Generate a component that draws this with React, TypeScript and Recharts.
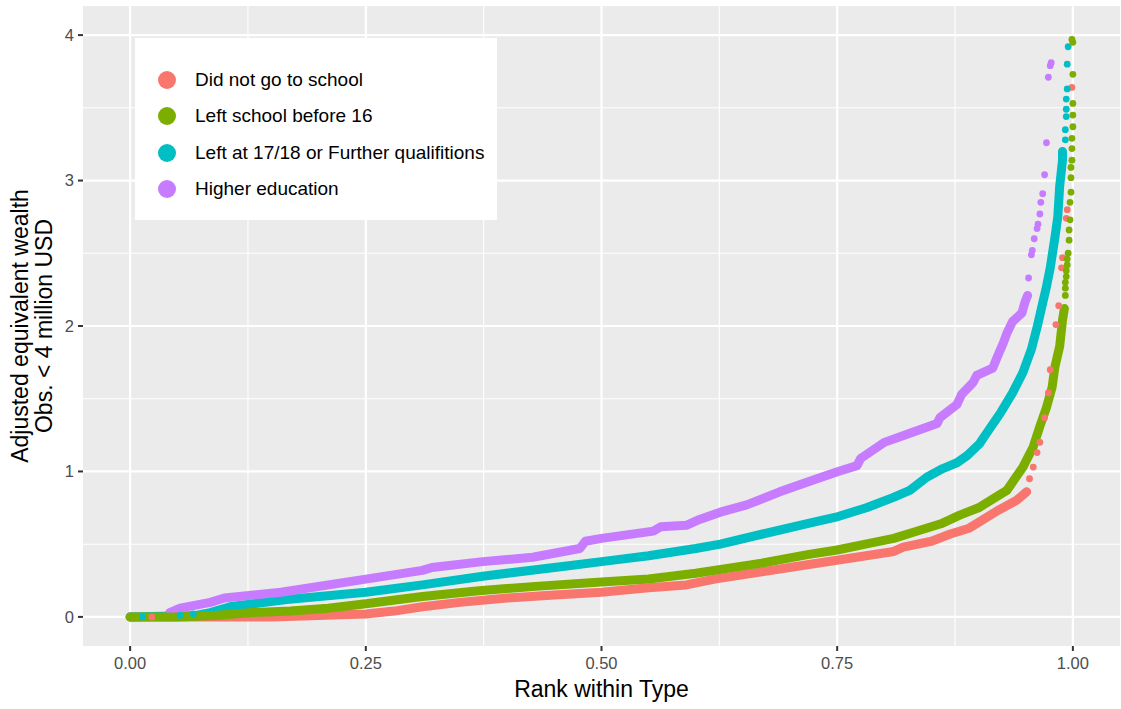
import React from 'react';
import { ScatterChart, Scatter, XAxis, YAxis, CartesianGrid } from 'recharts';

const FONT = '"Liberation Sans", Arial, Helvetica, sans-serif';

const SERIES_NAMES = [
  'Did not go to school',
  'Left school before 16',
  'Left at 17/18 or Further qualifitions',
  'Higher education',
];
const SERIES_COLORS = ['#F8766D', '#7CAE00', '#00BFC4', '#C77CFF'];

const X_TICKS = [0, 0.25, 0.5, 0.75, 1];
const X_TICK_LABELS = ['0.00', '0.25', '0.50', '0.75', '1.00'];
const Y_TICKS = [0, 1, 2, 3, 4];
const X_MINOR = [0.125, 0.375, 0.625, 0.875];
const Y_MINOR = [0.5, 1.5, 2.5, 3.5];

// rank within type, wealth (million USD) — dense part of each curve
const RED_BODY: [number, number][] = [
  [0, 0], [0.05, 0], [0.1, 0], [0.15, 0], [0.2, 0.01], [0.25, 0.02], [0.28, 0.04],
  [0.31, 0.07], [0.35, 0.1], [0.4, 0.13], [0.45, 0.15], [0.5, 0.17], [0.55, 0.2],
  [0.59, 0.22], [0.62, 0.26], [0.67, 0.31], [0.72, 0.36], [0.76, 0.4], [0.81, 0.45],
  [0.82, 0.48], [0.85, 0.52], [0.87, 0.57], [0.89, 0.61], [0.9, 0.65], [0.92, 0.73],
  [0.94, 0.8], [0.951, 0.86],
];
const GREEN_BODY: [number, number][] = [
  [0, 0], [0.05, 0], [0.09, 0.01], [0.13, 0.03], [0.17, 0.04], [0.21, 0.06], [0.25, 0.09],
  [0.31, 0.14], [0.37, 0.18], [0.43, 0.21], [0.5, 0.24], [0.55, 0.26], [0.6, 0.3],
  [0.63, 0.33], [0.67, 0.37], [0.72, 0.43], [0.75, 0.46], [0.78, 0.5], [0.81, 0.54],
  [0.83, 0.58], [0.86, 0.64], [0.88, 0.7], [0.9, 0.75], [0.92, 0.83], [0.93, 0.87],
  [0.947, 1.03], [0.958, 1.17], [0.965, 1.31], [0.972, 1.44], [0.978, 1.58],
  [0.981, 1.72], [0.986, 1.86], [0.989, 2.04], [0.991, 2.12],
];
const CYAN_BODY: [number, number][] = [
  [0, 0], [0.07, 0.01], [0.085, 0.03], [0.106, 0.07], [0.166, 0.12], [0.25, 0.17],
  [0.31, 0.22], [0.374, 0.28], [0.463, 0.35], [0.5, 0.38], [0.55, 0.42], [0.6, 0.47],
  [0.626, 0.5], [0.671, 0.57], [0.724, 0.65], [0.751, 0.69], [0.781, 0.75], [0.809, 0.82],
  [0.827, 0.87], [0.845, 0.96], [0.862, 1.02], [0.877, 1.06], [0.888, 1.11], [0.901, 1.19],
  [0.905, 1.23], [0.923, 1.4], [0.936, 1.54], [0.947, 1.68], [0.956, 1.84], [0.962, 1.99],
  [0.967, 2.13], [0.972, 2.27], [0.976, 2.4], [0.981, 2.61], [0.984, 2.75], [0.986, 2.96],
  [0.989, 3.14], [0.989, 3.2],
];
const PURPLE_BODY: [number, number][] = [
  [0.042, 0.03], [0.053, 0.06], [0.085, 0.1], [0.1, 0.13], [0.16, 0.17], [0.25, 0.26],
  [0.31, 0.32], [0.32, 0.34], [0.374, 0.38], [0.427, 0.41], [0.477, 0.47], [0.483, 0.52],
  [0.5, 0.54], [0.555, 0.59], [0.563, 0.62], [0.59, 0.63], [0.604, 0.67], [0.626, 0.72],
  [0.654, 0.77], [0.689, 0.86], [0.724, 0.94], [0.751, 1.0], [0.771, 1.04], [0.775, 1.09],
  [0.8, 1.2], [0.83, 1.27], [0.856, 1.33], [0.859, 1.37], [0.877, 1.46], [0.882, 1.53],
  [0.894, 1.61], [0.898, 1.66], [0.915, 1.71], [0.92, 1.79], [0.926, 1.88], [0.93, 1.95],
  [0.936, 2.03], [0.946, 2.09], [0.949, 2.16], [0.952, 2.21],
];

// scattered observations in the tails
const RED_TAIL: [number, number][] = [
  [0.023, 0], [0.954, 0.95], [0.958, 1.03], [0.962, 1.13], [0.965, 1.2], [0.97, 1.37],
  [0.974, 1.54], [0.976, 1.7], [0.982, 2.01], [0.985, 2.14], [0.988, 2.4], [0.989, 2.47],
  [0.993, 2.74], [0.994, 2.8], [0.999, 3.64],
];
const CYAN_TAIL: [number, number][] = [
  [0.013, 0], [0.053, 0.01], [0.067, 0.02], [0.992, 3.28], [0.992, 3.35], [0.993, 3.44],
  [0.993, 3.49], [0.993, 3.56], [0.994, 3.63], [0.994, 3.8], [0.995, 3.92],
];
const PURPLE_TAIL: [number, number][] = [
  [0.953, 2.33], [0.956, 2.49], [0.957, 2.52], [0.959, 2.6], [0.962, 2.67], [0.963, 2.7],
  [0.965, 2.77], [0.966, 2.85], [0.968, 2.91], [0.97, 3.04], [0.972, 3.26], [0.974, 3.71],
  [0.976, 3.79], [0.977, 3.81],
];
const GREEN_TAIL: [number, number][] = [
  [0.992, 2.21], [0.992, 2.26], [0.992, 2.3], [0.993, 2.34], [0.993, 2.38], [0.994, 2.42],
  [0.994, 2.46], [0.995, 2.5], [0.996, 2.59], [0.996, 2.66], [0.997, 2.73], [0.997, 2.85],
  [0.998, 2.92], [0.998, 3.02], [0.998, 3.09], [0.999, 3.14], [0.999, 3.22], [0.999, 3.29],
  [1.0, 3.37], [1.0, 3.45], [1.0, 3.53], [1.0, 3.73], [1.0, 3.95], [0.999, 3.97],
];

const toPoints = (arr: [number, number][]) => arr.map(([x, y]) => ({ x, y }));

const dot = (color: string) => (props: any) => (
  <circle cx={props.cx} cy={props.cy} r={3.4} fill={color} />
);

function YTitle(props: any) {
  const vb = props.viewBox || { x: 0, y: 6, width: 83, height: 640 };
  const cy = vb.y + vb.height / 2;
  const lines = ['Adjusted equivalent wealth', 'Obs. < 4 million USD'];
  const xs = [20, 44];
  return (
    <g>
      {lines.map((t, i) => (
        <text
          key={t}
          x={xs[i]}
          y={cy}
          transform={`rotate(-90, ${xs[i]}, ${cy})`}
          textAnchor="middle"
          dominantBaseline="central"
          fontFamily={FONT}
          fontSize={23}
          fill="#000"
        >
          {t}
        </text>
      ))}
    </g>
  );
}

function XTitle(props: any) {
  const vb = props.viewBox || { x: 83, y: 646, width: 1037, height: 63 };
  return (
    <text
      x={vb.x + vb.width / 2}
      y={vb.y + 51}
      textAnchor="middle"
      fontFamily={FONT}
      fontSize={23}
      fill="#000"
    >
      Rank within Type
    </text>
  );
}

function LegendBox() {
  return (
    <div
      style={{
        position: 'absolute',
        left: 135,
        top: 38,
        width: 362,
        height: 182,
        background: '#FFFFFF',
        fontFamily: FONT,
        fontSize: 19,
        color: '#000',
      }}
    >
      {SERIES_NAMES.map((name, i) => (
        <div
          key={name}
          style={{ position: 'absolute', left: 0, top: 42 + i * 36.3 - 18, height: 36, display: 'flex', alignItems: 'center' }}
        >
          <span
            style={{
              display: 'inline-block',
              width: 18,
              height: 18,
              borderRadius: 9,
              background: SERIES_COLORS[i],
              marginLeft: 23,
              marginRight: 19,
            }}
          />
          <span>{name}</span>
        </div>
      ))}
    </div>
  );
}

export default function App() {
  const bodies = [RED_BODY, CYAN_BODY, PURPLE_BODY, GREEN_BODY];
  const bodyColors = [SERIES_COLORS[0], SERIES_COLORS[2], SERIES_COLORS[3], SERIES_COLORS[1]];
  const tails = [RED_TAIL, CYAN_TAIL, PURPLE_TAIL, GREEN_TAIL];

  return (
    <div style={{ position: 'absolute', left: 0, top: 0, width: 1121, height: 709, background: '#fff' }}>
      <ScatterChart width={1121} height={709} margin={{ top: 6, right: 1, bottom: 0, left: 0 }}>
        <CartesianGrid
          fill="#EBEBEB"
          stroke="#FFFFFF"
          strokeWidth={1.1}
          horizontalValues={Y_MINOR}
          verticalValues={X_MINOR}
        />
        <CartesianGrid
          stroke="#FFFFFF"
          strokeWidth={2.2}
          horizontalValues={Y_TICKS}
          verticalValues={X_TICKS}
        />
        <XAxis
          type="number"
          dataKey="x"
          domain={[-0.05, 1.05]}
          allowDataOverflow
          ticks={X_TICKS}
          tickFormatter={(v: number) => X_TICK_LABELS[X_TICKS.indexOf(v)] ?? String(v)}
          height={63}
          axisLine={false}
          tickLine={{ stroke: '#333333', strokeWidth: 2 }}
          tickSize={5}
          tickMargin={6}
          tick={{ fill: '#4D4D4D', fontSize: 16.5, fontFamily: FONT }}
          label={{ content: XTitle }}
        />
        <YAxis
          type="number"
          dataKey="y"
          domain={[-0.2, 4.2]}
          allowDataOverflow
          ticks={Y_TICKS}
          width={83}
          axisLine={false}
          tickLine={{ stroke: '#333333', strokeWidth: 2 }}
          tickSize={5}
          tickMargin={4}
          tick={{ fill: '#4D4D4D', fontSize: 16.5, fontFamily: FONT }}
          label={{ content: YTitle }}
        />
        {bodies.map((b, i) => (
          <Scatter
            key={`body-${i}`}
            data={toPoints(b)}
            fill={bodyColors[i]}
            line={{ stroke: bodyColors[i], strokeWidth: 9, strokeLinecap: 'round', strokeLinejoin: 'round' }}
            shape={dot(bodyColors[i])}
            isAnimationActive={false}
          />
        ))}
        {tails.map((t, i) => (
          <Scatter
            key={`tail-${i}`}
            data={toPoints(t)}
            fill={bodyColors[i]}
            shape={dot(bodyColors[i])}
            isAnimationActive={false}
          />
        ))}
      </ScatterChart>
      <LegendBox />
    </div>
  );
}
